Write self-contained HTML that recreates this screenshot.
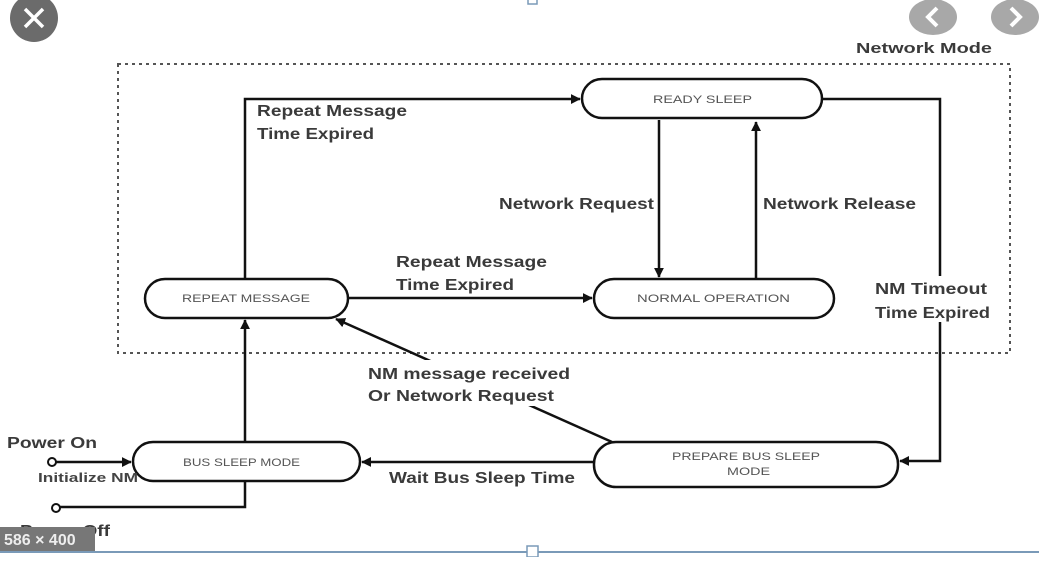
<!DOCTYPE html>
<html><head><style>
body{margin:0;background:#fff;}
svg text{font-family:"Liberation Sans",sans-serif;}
</style></head><body>
<svg width="1039" height="557" viewBox="0 0 1039 557" xmlns="http://www.w3.org/2000/svg">
<defs><marker id="a" markerWidth="10" markerHeight="10" refX="9" refY="5" orient="auto" markerUnits="userSpaceOnUse"><path d="M0,0 L10,5 L0,10 z" fill="#111" transform="scale(1.4) translate(-3,-1.4)"/></marker></defs>
<rect width="1039" height="557" fill="#fff"/>
<circle cx="34" cy="18" r="24" fill="#6b6b6b"/>
<path d="M25,9 L43,27 M43,9 L25,27" stroke="#fff" stroke-width="3.5"/>
<ellipse cx="933" cy="17" rx="24" ry="18" fill="#a8a8a8"/>
<path d="M937,8 L928,17 L937,26" stroke="#fff" stroke-width="4" fill="none"/>
<ellipse cx="1015" cy="17" rx="24" ry="18" fill="#a8a8a8"/>
<path d="M1011,8 L1020,17 L1011,26" stroke="#fff" stroke-width="4" fill="none"/>
<text x="856" y="53" font-size="15" font-weight="bold" fill="#3a3a3a" textLength="136" lengthAdjust="spacingAndGlyphs">Network Mode</text>
<rect x="118" y="64" width="892" height="289" fill="none" stroke="#555" stroke-width="2" stroke-dasharray="3,4"/>
<g fill="none" stroke="#111" stroke-width="2.5">
<rect x="582" y="79" width="240" height="39" rx="20"/>
<rect x="594" y="279" width="240" height="39" rx="20"/>
<rect x="145" y="279" width="203" height="39" rx="20"/>
<rect x="133" y="442" width="227" height="39" rx="20"/>
<rect x="594" y="442" width="304" height="45" rx="22"/>
<path d="M245,279 V99 H580" marker-end="url(#a)"/>
<path d="M822,99 H940 V461 H900" marker-end="url(#a)"/>
<path d="M659,120 V277" marker-end="url(#a)"/>
<path d="M756,279 V122" marker-end="url(#a)"/>
<path d="M348,298 H592" marker-end="url(#a)"/>
<path d="M612,442 L336,319" marker-end="url(#a)"/>
<path d="M594,462 H362" marker-end="url(#a)"/>
<path d="M245,442 V320" marker-end="url(#a)"/>
<path d="M56,462 H131" marker-end="url(#a)"/>
<path d="M60,507 H245 V481"/>
</g>
<circle cx="52" cy="462" r="4" fill="#fff" stroke="#111" stroke-width="2"/>
<circle cx="56" cy="508" r="4" fill="#fff" stroke="#111" stroke-width="2"/>
<g fill="#fff">
<rect x="366" y="360" width="208" height="46"/>
<rect x="872" y="276" width="122" height="46"/>
</g>
<g font-size="11" fill="#555">
<text x="653" y="103" textLength="99" lengthAdjust="spacingAndGlyphs">READY SLEEP</text>
<text x="637" y="302" textLength="153" lengthAdjust="spacingAndGlyphs">NORMAL OPERATION</text>
<text x="182" y="302" textLength="128" lengthAdjust="spacingAndGlyphs">REPEAT MESSAGE</text>
<text x="183" y="466" textLength="117" lengthAdjust="spacingAndGlyphs">BUS SLEEP MODE</text>
<text x="672" y="460" textLength="148" lengthAdjust="spacingAndGlyphs">PREPARE BUS SLEEP</text>
<text x="727" y="475" textLength="43" lengthAdjust="spacingAndGlyphs">MODE</text>
</g>
<g font-size="16" font-weight="bold" fill="#3a3a3a">
<text x="257" y="116" textLength="150" lengthAdjust="spacingAndGlyphs">Repeat Message</text>
<text x="257" y="139" textLength="117" lengthAdjust="spacingAndGlyphs">Time Expired</text>
<text x="499" y="209" textLength="155" lengthAdjust="spacingAndGlyphs">Network Request</text>
<text x="763" y="209" textLength="153" lengthAdjust="spacingAndGlyphs">Network Release</text>
<text x="396" y="267" textLength="151" lengthAdjust="spacingAndGlyphs">Repeat Message</text>
<text x="396" y="290" textLength="118" lengthAdjust="spacingAndGlyphs">Time Expired</text>
<text x="875" y="294" textLength="112" lengthAdjust="spacingAndGlyphs">NM Timeout</text>
<text x="875" y="318" textLength="115" lengthAdjust="spacingAndGlyphs">Time Expired</text>
<text x="368" y="379" textLength="202" lengthAdjust="spacingAndGlyphs">NM message received</text>
<text x="368" y="401" textLength="186" lengthAdjust="spacingAndGlyphs">Or Network Request</text>
<text x="389" y="483" textLength="186" lengthAdjust="spacingAndGlyphs">Wait Bus Sleep Time</text>
<text x="7" y="448" textLength="90" lengthAdjust="spacingAndGlyphs">Power On</text>
<text x="20" y="536" textLength="90" lengthAdjust="spacingAndGlyphs">Power Off</text>
</g>
<text x="38" y="482" font-size="13" font-weight="bold" fill="#444" textLength="100" lengthAdjust="spacingAndGlyphs">Initialize NM</text>
<rect x="0" y="527" width="95" height="25" fill="#777"/>
<text x="4" y="545" font-size="16" font-weight="bold" fill="#eee">586 × 400</text>
<rect x="0" y="551" width="1039" height="2" fill="#7a9ab8"/>
<rect x="527" y="546" width="11" height="11" fill="#fff" stroke="#7a9ab8" stroke-width="1.5"/>
<rect x="528" y="-5" width="9" height="9" fill="#fff" stroke="#7a9ab8" stroke-width="1.5"/>
</svg>
</body></html>
